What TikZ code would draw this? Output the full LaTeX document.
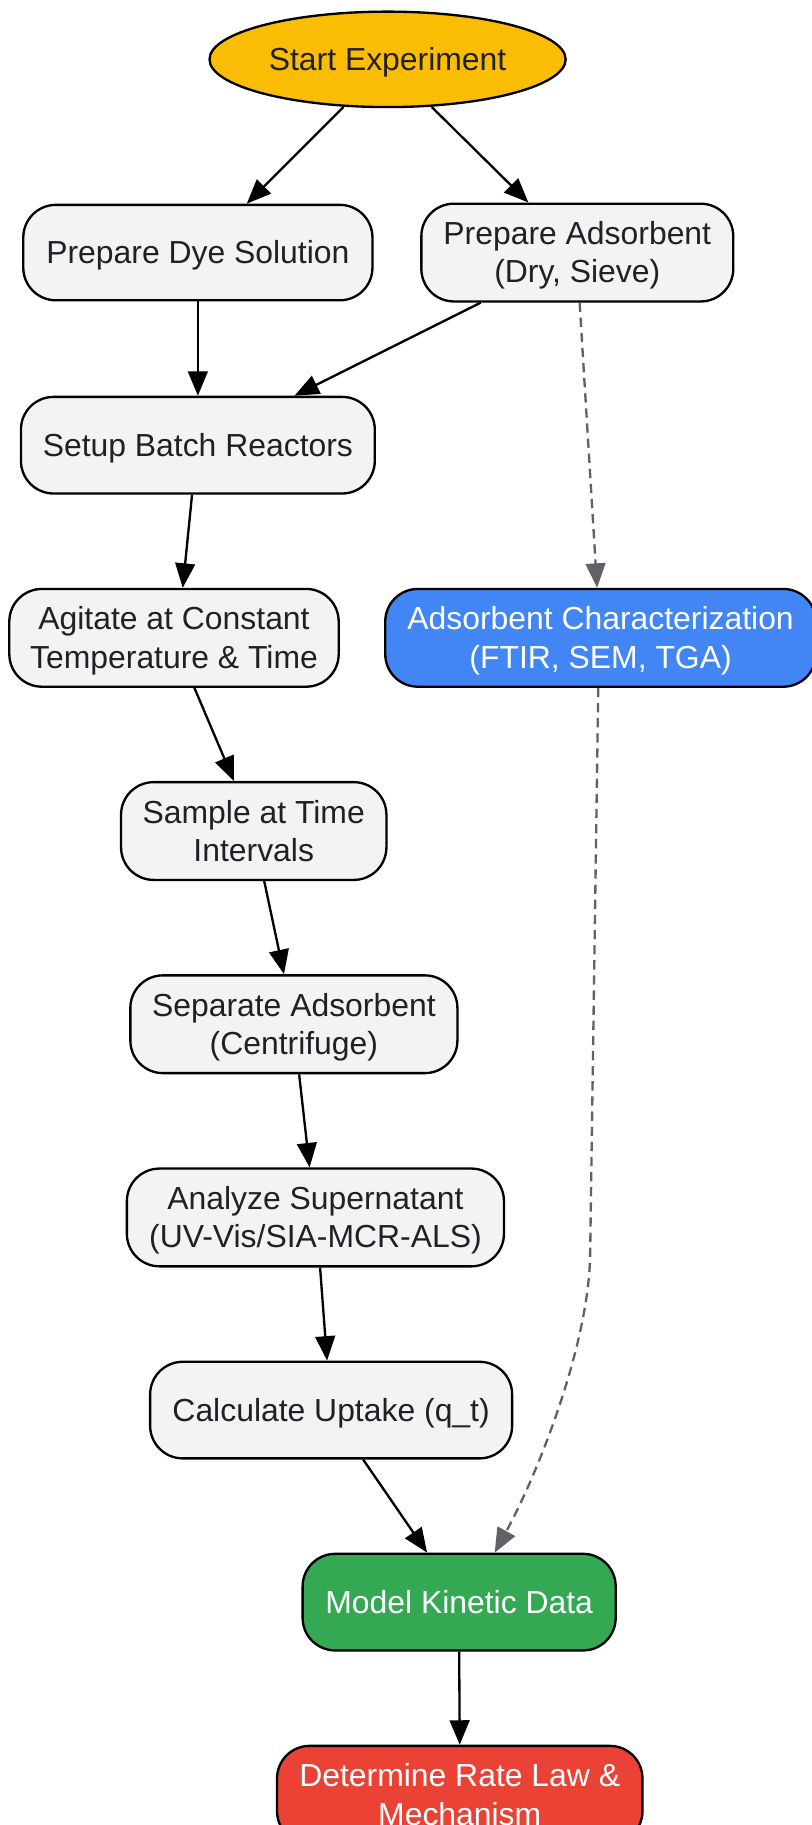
\documentclass[tikz,border=0pt]{standalone}
\usepackage{fontspec}
\setmainfont{Liberation Sans}
\usetikzlibrary{arrows.meta,shapes.geometric}
\definecolor{boxfill}{HTML}{F1F3F4}
\definecolor{txt}{HTML}{202124}
\definecolor{gold}{HTML}{FBBC04}
\definecolor{gblue}{HTML}{4285F4}
\definecolor{ggreen}{HTML}{34A853}
\definecolor{gred}{HTML}{EA4335}
\definecolor{dgray}{HTML}{5F6368}
\newcommand{\lowr}[1]{\raisebox{-3pt}[\height][\depth]{\begin{tabular}{@{}c@{}}#1\end{tabular}}}
\begin{document}
\begin{tikzpicture}[x=1pt,y=1pt,
  base/.style={draw=black,line width=2pt,inner sep=0pt,
    font=\fontsize{27.4}{33}\selectfont},
  proc/.style={base,rounded corners=28pt,fill=boxfill,text=txt},
  startnode/.style={base,ellipse,fill=gold,text=txt,minimum width=306pt,minimum height=82pt},
  arr/.style={line width=2pt,-{Triangle[length=21pt,width=17pt]}},
  darr/.style={line width=2pt,dgray,dash pattern=on 8pt off 5pt,-{Triangle[length=21pt,width=17pt,fill=dgray]}}]
\useasboundingbox (0,0) rectangle (697,-1568);
\node[startnode] (start) at (333,-51) {\lowr{Start Experiment}};
\node[proc,minimum width=300pt,minimum height=82pt] (dye) at (170,-217) {\lowr{Prepare Dye Solution}};
\node[proc,minimum width=268pt,minimum height=84pt] (ads) at (496,-217) {\lowr{Prepare Adsorbent\\(Dry, Sieve)}};
\node[proc,minimum width=304pt,minimum height=83pt] (setup) at (170,-382.5) {\lowr{Setup Batch Reactors}};
\node[proc,minimum width=283pt,minimum height=84pt] (agit) at (149.5,-548) {\lowr{Agitate at Constant\\Temperature \& Time}};
\node[proc,fill=gblue,text=white,minimum width=370pt,minimum height=84pt] (char) at (516,-548) {\lowr{Adsorbent Characterization\\(FTIR, SEM, TGA)}};
\node[proc,minimum width=228pt,minimum height=84pt] (sample) at (218,-714) {\lowr{Sample at Time\\Intervals}};
\node[proc,minimum width=281pt,minimum height=84pt] (sep) at (252.5,-880) {\lowr{Separate Adsorbent\\(Centrifuge)}};
\node[proc,minimum width=324pt,minimum height=84pt] (ana) at (271,-1046) {\lowr{Analyze Supernatant\\(UV-Vis/SIA-MCR-ALS)}};
\node[proc,minimum width=311pt,minimum height=83pt] (calc) at (284.5,-1211.5) {\lowr{Calculate Uptake (q\_t)}};
\node[proc,fill=ggreen,text=white,minimum width=269pt,minimum height=83pt] (model) at (394.5,-1376.5) {\lowr{Model Kinetic Data}};
\node[proc,fill=gred,text=white,minimum width=314pt,minimum height=84pt] (det) at (395,-1542) {\lowr{Determine Rate Law \&\\Mechanism}};
\coordinate (bend) at (507,-1080);

\draw[arr] ([xshift=-38pt,yshift=1pt]start.south) -- ([xshift=42pt]dye.north);
\draw[arr] ([xshift=38pt,yshift=1pt]start.south) -- ([xshift=-42pt]ads.north);
\draw[arr] (dye.south) -- (setup.north);
\draw[arr] ([xshift=-83pt]ads.south) -- ([xshift=83pt]setup.north);
\draw[darr] ([xshift=2pt]ads.south) -- ([xshift=-3pt]char.north);
\draw[arr] ([xshift=-5pt]setup.south) -- ([xshift=7.5pt]agit.north);
\draw[arr] ([xshift=17.5pt]agit.south) -- ([xshift=-17pt]sample.north);
\draw[arr] ([xshift=9pt]sample.south) -- ([xshift=-8.5pt]sep.north);
\draw[arr] ([xshift=4.5pt]sep.south) -- ([xshift=-5pt]ana.north);
\draw[arr] ([xshift=4pt]ana.south) -- ([xshift=-3.5pt]calc.north);
\draw[arr] ([xshift=27.5pt]calc.south) -- ([xshift=-27.5pt]model.north);
\draw[darr] ([xshift=-2pt]char.south) -- (bend) .. controls (505,-1160) and (460,-1270) .. ([xshift=30.5pt]model.north);
\draw[arr] (model.south) -- (det.north);
\end{tikzpicture}
\end{document}
